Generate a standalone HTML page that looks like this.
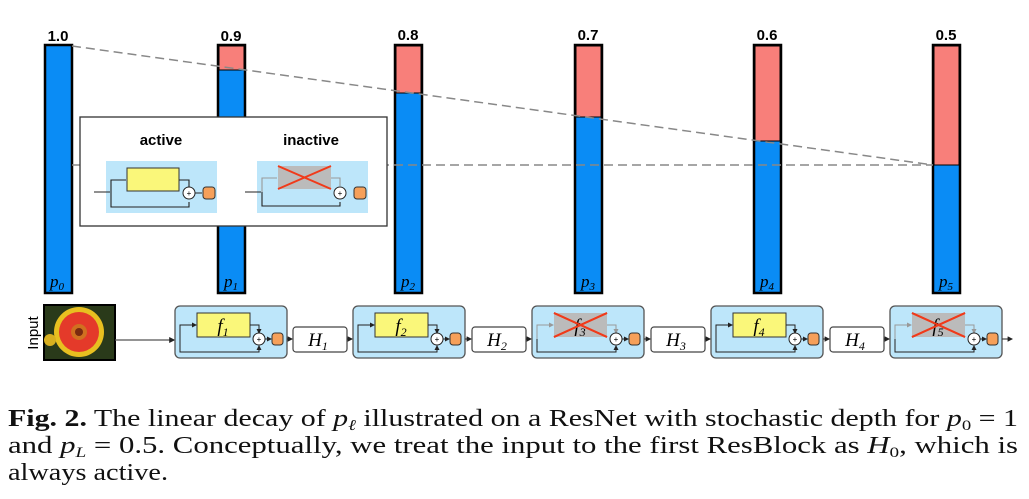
<!DOCTYPE html>
<html><head><meta charset="utf-8"><style>
body{margin:0;background:#fff;}
svg{display:block}
</style></head><body>
<svg width="1029" height="499" viewBox="0 0 1029 499" xmlns="http://www.w3.org/2000/svg" font-family="Liberation Sans, sans-serif">
<defs>
<marker id="a" markerWidth="5" markerHeight="5" refX="4" refY="2.5" orient="auto"><path d="M0,0 L5,2.5 L0,5z" fill="#222"/></marker>
<marker id="g" markerWidth="5" markerHeight="5" refX="4" refY="2.5" orient="auto"><path d="M0,0 L5,2.5 L0,5z" fill="#999"/></marker>
<g id="act">
<rect x="0" y="0" width="112" height="52" rx="5" fill="#bde6fa" stroke="#555" stroke-width="1.3"/>
<rect x="22" y="7" width="53" height="24" fill="#faf77a" stroke="#333"/>
<path d="M5,33 V19 H21" fill="none" stroke="#222" marker-end="url(#a)"/>
<path d="M5,33 V46 H84 V40" fill="none" stroke="#222" marker-end="url(#a)"/>
<path d="M75,19 H84 V27" fill="none" stroke="#222" marker-end="url(#a)"/>
<circle cx="84" cy="33" r="6" fill="#fff" stroke="#222"/>
<text x="84" y="36" font-size="8" text-anchor="middle">+</text>
<path d="M90,33 H96" stroke="#222" marker-end="url(#a)"/>
<rect x="97" y="27" width="11" height="12" rx="3" fill="#f6a05a" stroke="#333"/>
</g>
<g id="inact">
<rect x="0" y="0" width="112" height="52" rx="5" fill="#bde6fa" stroke="#555" stroke-width="1.3"/>
<rect x="22" y="7" width="53" height="24" fill="#bbb"/>
<path d="M5,33 V19 H21" fill="none" stroke="#999" marker-end="url(#g)"/>
<path d="M5,33 V46 H84 V40" fill="none" stroke="#222" marker-end="url(#a)"/>
<path d="M75,19 H84 V27" fill="none" stroke="#999" marker-end="url(#g)"/>
<circle cx="84" cy="33" r="6" fill="#fff" stroke="#222"/>
<text x="84" y="36" font-size="8" text-anchor="middle">+</text>
<path d="M90,33 H96" stroke="#222" marker-end="url(#a)"/>
<rect x="97" y="27" width="11" height="12" rx="3" fill="#f6a05a" stroke="#333"/>
<path d="M22,7 L75,31 M22,31 L75,7" stroke="#f03a1a" stroke-width="2"/>
</g>
</defs>

<!-- bars -->
<g stroke="#000" stroke-width="2.5">
<rect x="45" y="45" width="27" height="248" fill="#0a8cf5"/>
<rect x="218" y="45" width="27" height="248" fill="#0a8cf5"/>
<rect x="395" y="45" width="27" height="248" fill="#0a8cf5"/>
<rect x="575" y="45" width="27" height="248" fill="#0a8cf5"/>
<rect x="754" y="45" width="27" height="248" fill="#0a8cf5"/>
<rect x="933" y="45" width="27" height="248" fill="#0a8cf5"/>
</g>
<g fill="#f87f7a" stroke="#000" stroke-width="1">
<rect x="219" y="46" width="25" height="24"/>
<rect x="396" y="46" width="25" height="47"/>
<rect x="576" y="46" width="25" height="71"/>
<rect x="755" y="46" width="25" height="95"/>
<rect x="934" y="46" width="25" height="119"/>
</g>
<g font-weight="bold" font-size="15" text-anchor="middle">
<text x="58" y="41">1.0</text><text x="231" y="41">0.9</text><text x="408" y="40">0.8</text>
<text x="588" y="40">0.7</text><text x="767" y="40">0.6</text><text x="946" y="40">0.5</text>
</g>
<g font-family="Liberation Serif, serif" font-style="italic" font-size="17" text-anchor="middle">
<text x="57" y="287">p<tspan font-size="11" dy="3">0</tspan></text>
<text x="231" y="287">p<tspan font-size="11" dy="3">1</tspan></text>
<text x="408" y="287">p<tspan font-size="11" dy="3">2</tspan></text>
<text x="588" y="287">p<tspan font-size="11" dy="3">3</tspan></text>
<text x="767" y="287">p<tspan font-size="11" dy="3">4</tspan></text>
<text x="946" y="287">p<tspan font-size="11" dy="3">5</tspan></text>
</g>
<path d="M72,46 L933,165 M72,165 H933" stroke="#888" stroke-width="1.5" stroke-dasharray="9,5" fill="none"/>

<!-- inset -->
<rect x="80" y="117" width="307" height="109" fill="#fff" stroke="#333" stroke-width="1.3"/>
<text x="161" y="145" font-size="15" font-weight="bold" text-anchor="middle">active</text>
<text x="311" y="145" font-size="15" font-weight="bold" text-anchor="middle">inactive</text>
<rect x="106" y="161" width="111" height="52" fill="#bde6fa"/>
<rect x="127" y="168" width="52" height="23" fill="#faf77a" stroke="#333"/>
<path d="M94,192 H110 M111,192 V180 H126 M111,192 V207 H189 V202 M179,180 H189 V187 M195,193 H202" fill="none" stroke="#222" stroke-width="1.1"/>
<circle cx="189" cy="193" r="6" fill="#fff" stroke="#222"/>
<text x="189" y="196" font-size="8" text-anchor="middle">+</text>
<rect x="203" y="187" width="12" height="12" rx="3" fill="#f6a05a" stroke="#333"/>
<rect x="257" y="161" width="111" height="52" fill="#bde6fa"/>
<rect x="278" y="166" width="53" height="23" fill="#bbb"/>
<path d="M245,192 H261 M262,192 V206 H340 V202 M340,193 H346" fill="none" stroke="#222" stroke-width="1.1"/>
<path d="M262,192 V178 H277 M331,178 H340 V186" fill="none" stroke="#999" stroke-width="1.1"/>
<circle cx="340" cy="193" r="6" fill="#fff" stroke="#222"/>
<text x="340" y="196" font-size="8" text-anchor="middle">+</text>
<rect x="354" y="187" width="12" height="12" rx="3" fill="#f6a05a" stroke="#333"/>
<path d="M278,166 L331,189 M278,189 L331,166" stroke="#f03a1a" stroke-width="2"/>

<!-- bottom row -->
<text transform="translate(38,333) rotate(-90)" font-size="15" text-anchor="middle">Input</text>
<rect x="44" y="305" width="71" height="55" fill="#2a3a1a" stroke="#000" stroke-width="2"/>
<circle cx="79" cy="332" r="25" fill="#e8c020"/>
<circle cx="79" cy="332" r="20" fill="#e43a2a"/>
<circle cx="79" cy="332" r="8" fill="#d07020"/>
<circle cx="79" cy="332" r="4" fill="#7a2a10"/>
<circle cx="50" cy="340" r="6" fill="#d8b020"/>
<path d="M115,340 H174" stroke="#555" stroke-width="1.2" marker-end="url(#a)"/>
<use href="#act" x="175" y="306"/>
<use href="#act" x="353" y="306"/>
<use href="#inact" x="532" y="306"/>
<use href="#act" x="711" y="306"/>
<use href="#inact" x="890" y="306"/>
<g font-family="Liberation Serif, serif" font-style="italic" font-size="19" text-anchor="middle">
<text x="223" y="332">f<tspan font-size="12" dy="4">1</tspan></text>
<text x="401" y="332">f<tspan font-size="12" dy="4">2</tspan></text>
<text x="580" y="332">f<tspan font-size="12" dy="4">3</tspan></text>
<text x="759" y="332">f<tspan font-size="12" dy="4">4</tspan></text>
<text x="938" y="332">f<tspan font-size="12" dy="4">5</tspan></text>
</g>
<path d="M554,313 L607,337 M554,337 L607,313 M912,313 L965,337 M912,337 L965,313" stroke="#f03a1a" stroke-width="2"/>
<g fill="#fff" stroke="#444" stroke-width="1.2">
<rect x="293" y="327" width="54" height="25" rx="3"/>
<rect x="472" y="327" width="54" height="25" rx="3"/>
<rect x="651" y="327" width="54" height="25" rx="3"/>
<rect x="830" y="327" width="54" height="25" rx="3"/>
</g>
<g stroke="#333" stroke-width="1.1" marker-end="url(#a)">
<path d="M287,339 H292"/><path d="M347,339 H352"/><path d="M465,339 H471"/><path d="M526,339 H531"/>
<path d="M644,339 H650"/><path d="M705,339 H710"/><path d="M823,339 H829"/><path d="M884,339 H889"/><path d="M1002,339 H1012"/>
</g>
<g font-family="Liberation Serif, serif" font-style="italic" font-size="19" text-anchor="middle">
<text x="318" y="346">H<tspan font-size="12" dy="4">1</tspan></text>
<text x="497" y="346">H<tspan font-size="12" dy="4">2</tspan></text>
<text x="676" y="346">H<tspan font-size="12" dy="4">3</tspan></text>
<text x="855" y="346">H<tspan font-size="12" dy="4">4</tspan></text>
</g>

<!-- caption -->
<g font-family="Liberation Serif, serif" font-size="24" fill="#111">
<text x="8" y="426" textLength="1010" lengthAdjust="spacingAndGlyphs"><tspan font-weight="bold">Fig. 2.</tspan> The linear decay of <tspan font-style="italic">p<tspan font-size="15" dy="4">ℓ</tspan></tspan><tspan dy="-4"> illustrated on a ResNet with stochastic depth for </tspan><tspan font-style="italic">p</tspan><tspan font-size="15" dy="4">0</tspan><tspan dy="-4"> = 1</tspan></text>
<text x="8" y="453" textLength="1010" lengthAdjust="spacingAndGlyphs">and <tspan font-style="italic">p</tspan><tspan font-size="15" dy="4" font-style="italic">L</tspan><tspan dy="-4"> = 0.5. Conceptually, we treat the input to the first ResBlock as </tspan><tspan font-style="italic">H</tspan><tspan font-size="15" dy="4">0</tspan><tspan dy="-4">, which is</tspan></text>
<text x="8" y="480" textLength="160" lengthAdjust="spacingAndGlyphs">always active.</text>
</g>
</svg>
</body></html>
